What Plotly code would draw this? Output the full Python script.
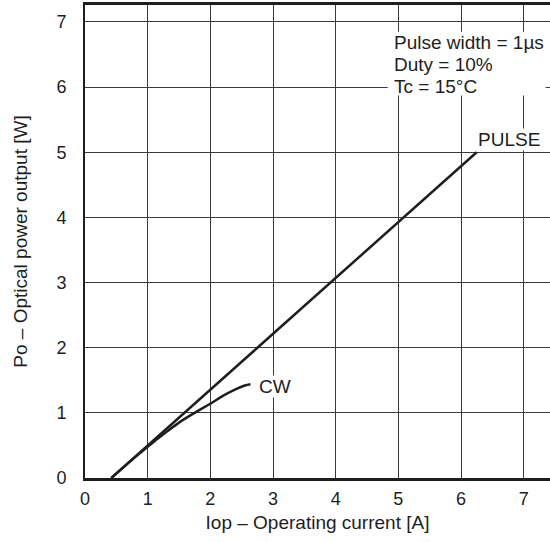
import plotly.graph_objects as go

pulse_x = [0.42, 6.25]
pulse_y = [0.0, 5.0]

cw_x = [0.42, 0.8, 1.0, 1.25, 1.5, 1.75, 2.0, 2.2, 2.4, 2.55, 2.64]
cw_y = [0.0, 0.32, 0.48, 0.67, 0.85, 1.0, 1.14, 1.26, 1.36, 1.42, 1.44]

x_ticks = [0, 1, 2, 3, 4, 5, 6, 7]
y_ticks = [0, 1, 2, 3, 4, 5, 6, 7]

note_lines = ["Pulse width = 1µs", "Duty = 10%", "Tc = 15°C"]

FONT = "Liberation Sans, Arial, sans-serif"
INK = "#1e1e1e"
fig = go.Figure()
fig.add_trace(go.Scatter(x=pulse_x, y=pulse_y, mode="lines",
                         line=dict(color=INK, width=2.5), hoverinfo="skip"))
fig.add_trace(go.Scatter(x=cw_x, y=cw_y, mode="lines", line_shape="spline",
                         line=dict(color=INK, width=2.5), hoverinfo="skip"))

# white box behind the condition notes
fig.add_shape(type="rect", xref="x", yref="y", x0=4.83, x1=7.35, y0=5.87, y1=6.85,
              fillcolor="white", line=dict(width=0), layer="above")

fig.add_annotation(x=2.66, y=1.40, xref="x", yref="y", text="CW", showarrow=False,
                   xanchor="left", yanchor="middle", xshift=6,
                   font=dict(size=19, color=INK), bgcolor="white", borderpad=0)
fig.add_annotation(x=6.26, y=5.02, xref="x", yref="y", text="PULSE", showarrow=False,
                   xanchor="left", yanchor="bottom",
                   font=dict(size=19, color=INK), bgcolor="white", borderpad=0)
for i, t in enumerate(note_lines):
    fig.add_annotation(x=4.9, y=6.68 - i * 0.335, xref="x", yref="y", text=t,
                       showarrow=False, xanchor="left", yanchor="middle", align="left",
                       font=dict(size=19, color=INK))

fig.update_layout(
    width=550, height=542,
    margin=dict(l=85, r=0, t=5, b=64, autoexpand=False),
    plot_bgcolor="white", paper_bgcolor="white",
    showlegend=False,
    font=dict(family=FONT, size=19, color=INK),
    xaxis=dict(range=[0, 7.42], tickvals=x_ticks, showgrid=True, gridcolor="#3a3a3a",
               gridwidth=1, zeroline=False, showline=True, linecolor=INK,
               linewidth=2.5, mirror=True, ticks="", automargin=False,
               ticklabelstandoff=3,
               title=dict(text="Iop – Operating current [A]", font=dict(size=19), standoff=8),
               tickfont=dict(size=18)),
    yaxis=dict(range=[0, 7.26], tickvals=y_ticks, showgrid=True, gridcolor="#3a3a3a",
               gridwidth=1, zeroline=False, showline=True, linecolor=INK,
               linewidth=2, ticks="", automargin=False, ticklabelstandoff=13,
               title=dict(text="Po – Optical power output [W]", font=dict(size=19), standoff=24),
               tickfont=dict(size=18)),
)
fig.write_html("out.html", config={"displayModeBar": False},
               post_script="document.body.style.margin='0';document.body.style.overflow='hidden';")
